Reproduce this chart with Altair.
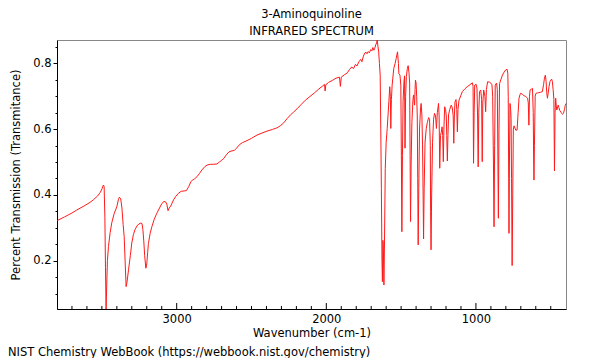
import altair as alt
import pandas as pd

# ---- spectrum data ----
wavenumber = [
    3798, 3750, 3700, 3668, 3620, 3580, 3557, 3530, 3510, 3498, 3490, 3485, 3480, 3476, 3472, 3468,
    3463, 3456, 3445, 3434, 3418, 3400, 3390, 3383, 3374, 3366, 3358, 3351, 3344, 3338, 3332, 3322,
    3310, 3300, 3289, 3278, 3262, 3244, 3232, 3226, 3220, 3214, 3206, 3200, 3194, 3189, 3178, 3166,
    3150, 3133, 3115, 3099, 3085, 3075, 3066, 3058, 3050, 3040, 3021, 3005, 2988, 2970, 2950, 2935,
    2920, 2905, 2895, 2880, 2865, 2848, 2831, 2812, 2795, 2776, 2755, 2731, 2715, 2700, 2687, 2668,
    2650, 2630, 2615, 2600, 2580, 2560, 2530, 2500, 2463, 2430, 2396, 2360, 2329, 2305, 2285, 2262,
    2240, 2218, 2195, 2170, 2140, 2110, 2080, 2050, 2025, 2012, 2008, 2003, 1985, 1960, 1935, 1912,
    1906, 1900, 1880, 1860, 1845, 1830, 1818, 1805, 1795, 1782, 1770, 1762, 1752, 1742, 1735, 1728,
    1720, 1712, 1703, 1695, 1689, 1682, 1676, 1670, 1664, 1660, 1655, 1650, 1645, 1640, 1636, 1632,
    1628, 1625, 1622, 1619, 1615, 1611, 1606, 1600, 1593, 1582, 1576, 1572, 1569, 1565, 1560, 1549,
    1540, 1533, 1524, 1518, 1515, 1508, 1502, 1498, 1495, 1491, 1487, 1481, 1477, 1474, 1470, 1465,
    1458, 1453, 1447, 1443, 1440, 1437, 1433, 1428, 1421, 1417, 1412, 1410, 1407, 1404, 1400, 1396,
    1392, 1389, 1386, 1382, 1377, 1370, 1366, 1361, 1357, 1353, 1350, 1346, 1340, 1332, 1325, 1316,
    1310, 1305, 1303, 1300, 1296, 1290, 1283, 1277, 1270, 1264, 1258, 1250, 1246, 1242, 1237, 1232,
    1226, 1222, 1218, 1214, 1209, 1203, 1198, 1195, 1191, 1187, 1183, 1175, 1165, 1158, 1152, 1148,
    1144, 1140, 1133, 1128, 1124, 1120, 1113, 1100, 1091, 1075, 1058, 1040, 1024, 1019, 1016, 1012,
    1008, 1000, 993, 989, 985, 981, 976, 968, 962, 958, 954, 948, 940, 935, 930, 922,
    910, 900, 893, 888, 883, 879, 875, 871, 862, 857, 853, 850, 846, 842, 832, 823,
    812, 801, 792, 787, 784, 781, 779, 776, 772, 768, 765, 762, 758, 754, 750, 745,
    734, 725, 718, 712, 706, 701, 690, 680, 667, 655, 650, 646, 642, 638, 628, 622,
    617, 614, 612, 609, 604, 599, 590, 580, 568, 556, 548, 542, 536, 531, 527, 522,
    517, 511, 505, 500, 494, 489, 484, 479, 475, 471, 467, 463, 459, 454, 450, 445,
    440, 430, 422, 415, 408, 403, 398,
]
transmittance = [
    0.322, 0.333, 0.345, 0.354, 0.366, 0.377, 0.385, 0.396, 0.408, 0.420, 0.430, 0.426, 0.330, 0.180, 0.053, 0.120,
    0.200, 0.243, 0.285, 0.315, 0.343, 0.364, 0.385, 0.393, 0.388, 0.360, 0.310, 0.273, 0.190, 0.121, 0.135, 0.172,
    0.215, 0.254, 0.280, 0.295, 0.308, 0.314, 0.313, 0.295, 0.260, 0.215, 0.177, 0.190, 0.225, 0.252, 0.282, 0.303,
    0.326, 0.344, 0.360, 0.374, 0.380, 0.379, 0.372, 0.352, 0.360, 0.366, 0.385, 0.396, 0.405, 0.411, 0.412, 0.413,
    0.425, 0.440, 0.445, 0.449, 0.455, 0.465, 0.476, 0.486, 0.491, 0.493, 0.493, 0.494, 0.500, 0.505, 0.510, 0.522,
    0.531, 0.534, 0.535, 0.542, 0.553, 0.559, 0.565, 0.572, 0.582, 0.588, 0.594, 0.599, 0.604, 0.611, 0.619, 0.632,
    0.643, 0.652, 0.662, 0.674, 0.688, 0.699, 0.710, 0.722, 0.731, 0.736, 0.716, 0.735, 0.742, 0.748, 0.755, 0.758,
    0.730, 0.758, 0.765, 0.771, 0.781, 0.789, 0.784, 0.797, 0.792, 0.805, 0.812, 0.805, 0.822, 0.832, 0.834, 0.829,
    0.836, 0.832, 0.842, 0.838, 0.848, 0.840, 0.846, 0.856, 0.862, 0.871, 0.852, 0.835, 0.800, 0.764, 0.600, 0.420,
    0.200, 0.136, 0.262, 0.250, 0.126, 0.260, 0.480, 0.560, 0.602, 0.683, 0.729, 0.700, 0.602, 0.690, 0.734, 0.785,
    0.800, 0.815, 0.835, 0.800, 0.768, 0.765, 0.734, 0.500, 0.288, 0.520, 0.683, 0.745, 0.762, 0.542, 0.700, 0.760,
    0.785, 0.793, 0.770, 0.740, 0.520, 0.319, 0.500, 0.620, 0.690, 0.704, 0.680, 0.673, 0.720, 0.749, 0.740, 0.700,
    0.640, 0.450, 0.248, 0.420, 0.600, 0.665, 0.678, 0.640, 0.552, 0.400, 0.266, 0.420, 0.560, 0.602, 0.620, 0.635,
    0.630, 0.550, 0.350, 0.233, 0.400, 0.560, 0.630, 0.648, 0.640, 0.602, 0.650, 0.678, 0.640, 0.481, 0.580, 0.590,
    0.607, 0.580, 0.501, 0.600, 0.668, 0.660, 0.640, 0.580, 0.503, 0.580, 0.643, 0.660, 0.673, 0.665, 0.640, 0.557,
    0.640, 0.683, 0.690, 0.660, 0.592, 0.660, 0.688, 0.703, 0.714, 0.722, 0.729, 0.735, 0.741, 0.730, 0.496, 0.650,
    0.734, 0.737, 0.725, 0.640, 0.485, 0.650, 0.714, 0.719, 0.690, 0.501, 0.680, 0.719, 0.700, 0.653, 0.720, 0.744,
    0.743, 0.740, 0.735, 0.700, 0.500, 0.303, 0.550, 0.734, 0.740, 0.720, 0.500, 0.329, 0.600, 0.739, 0.752, 0.764,
    0.773, 0.780, 0.782, 0.770, 0.700, 0.450, 0.283, 0.500, 0.678, 0.660, 0.633, 0.450, 0.185, 0.400, 0.600, 0.610,
    0.597, 0.597, 0.650, 0.694, 0.704, 0.709, 0.706, 0.702, 0.699, 0.694, 0.680, 0.612, 0.700, 0.719, 0.722, 0.724,
    0.650, 0.500, 0.445, 0.550, 0.700, 0.709, 0.710, 0.711, 0.712, 0.714, 0.735, 0.755, 0.764, 0.745, 0.712, 0.694,
    0.710, 0.730, 0.745, 0.749, 0.752, 0.745, 0.720, 0.690, 0.473, 0.650, 0.694, 0.670, 0.658, 0.668, 0.673, 0.665,
    0.657, 0.650, 0.645, 0.648, 0.660, 0.672, 0.678,
]

x_tick_values = list(range(500, 3800, 100))
x_label_values = [1000, 2000, 3000]
y_tick_values = [round(0.05 * i, 2) for i in range(2, 18)]

title_lines = ["3-Aminoquinoline", "INFRARED SPECTRUM"]
x_title = "Wavenumber (cm-1)"
y_title = "Percent Transmission (Transmitance)"
footer = "NIST Chemistry WebBook (https://webbook.nist.gov/chemistry)"

FONT = "DejaVu Sans"
FS = 11.5
W, H = 509, 269

spec = pd.DataFrame({"wn": wavenumber, "T": transmittance})
ticks = pd.DataFrame({"wn": x_tick_values,
                      "major": [v % 1000 == 0 for v in x_tick_values]})

xscale = alt.Scale(domain=[3800, 398], nice=False, zero=False)
yscale = alt.Scale(domain=[0.053, 0.871], nice=False, zero=False)

major_test = "abs(datum.value * 5 - round(datum.value * 5)) < 0.001"

x_axis = alt.Axis(values=x_label_values, title=x_title, ticks=False, format="d",
                  labelPadding=4, labelFontSize=FS, labelFont=FONT,
                  titleFont=FONT, titleFontSize=FS, titleFontWeight="normal",
                  titlePadding=3, domainColor="black", labelColor="black",
                  titleColor="black", grid=False, labelFlush=False)

line = alt.Chart(spec).mark_line(color="#ff1a1a", strokeWidth=1).encode(
    x=alt.X("wn:Q", scale=xscale, axis=x_axis),
    y=alt.Y("T:Q", scale=yscale,
            axis=alt.Axis(values=y_tick_values,
                          labelExpr=f"{major_test} ? format(datum.value, '.1f') : ''",
                          tickSize={"condition": {"test": major_test, "value": 4}, "value": 2},
                          tickColor="black", labelPadding=2, labelFontSize=FS, labelFont=FONT,
                          title=y_title, titleFont=FONT, titleFontSize=FS,
                          titleFontWeight="normal", titlePadding=11, domainColor="black",
                          labelColor="black", titleColor="black", grid=False,
                          labelFlush=False)),
)

minor_ticks = alt.Chart(ticks).transform_filter("!datum.major").mark_rule(
    color="black", strokeWidth=1).encode(
    x=alt.X("wn:Q", scale=xscale, axis=x_axis),
    y=alt.value(H), y2=alt.value(H - 3))

major_ticks = alt.Chart(ticks).transform_filter("datum.major").mark_rule(
    color="black", strokeWidth=1).encode(
    x=alt.X("wn:Q", scale=xscale, axis=x_axis),
    y=alt.value(H), y2=alt.value(H - 6))

foot = alt.Chart(pd.DataFrame({"t": [footer]})).mark_text(
    align="left", baseline="middle", font=FONT, fontSize=FS, color="black").encode(
    text="t:N", x=alt.value(-49), y=alt.value(H + 44))

chart = alt.layer(line, minor_ticks, major_ticks, foot).properties(
    width=W, height=H,
    title=alt.Title(title_lines, font=FONT, fontSize=FS, fontWeight="normal",
                    anchor="middle", color="black", lineHeight=17, offset=1),
    padding={"left": 49, "top": 32, "right": 26, "bottom": 49},
    autosize=alt.AutoSizeParams(type="none"),
).configure_view(stroke="#888888", strokeWidth=1)

chart.save("out.html", embed_options={"renderer": "svg", "actions": False})
